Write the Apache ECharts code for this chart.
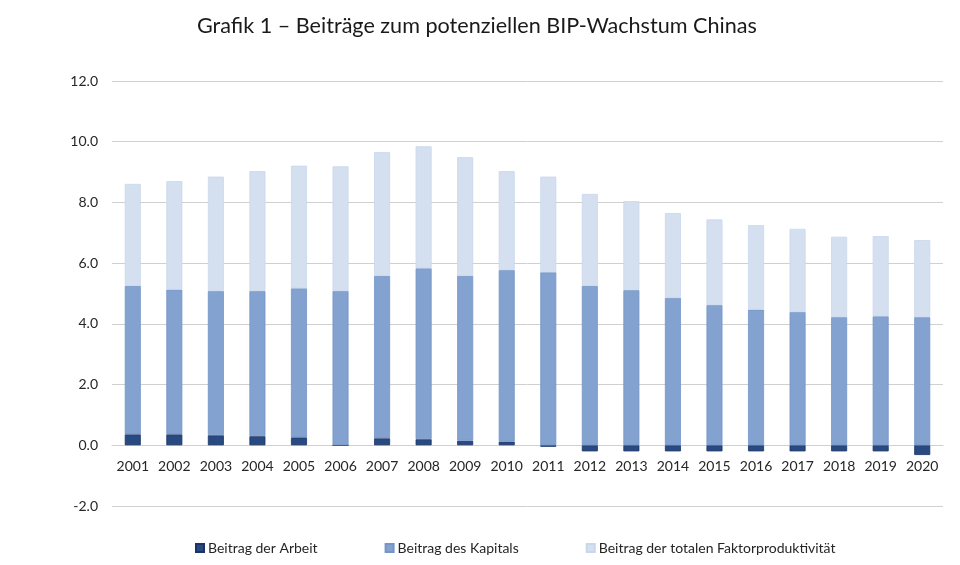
<!DOCTYPE html>
<html>
<head>
<meta charset="utf-8">
<script src="https://cdn.jsdelivr.net/npm/echarts@6/dist/echarts.min.js"></script>
<style>
html,body{margin:0;padding:0;background:#fff;}
#c{width:960px;height:565px;}
</style>
</head>
<body>
<div id="c"></div>
<script>
const titleText = 'Grafik 1 – Beiträge zum potenziellen BIP-Wachstum Chinas';
const years = ['2001','2002','2003','2004','2005','2006','2007','2008','2009','2010','2011','2012','2013','2014','2015','2016','2017','2018','2019','2020'];
const seriesNames = ['Beitrag der Arbeit','Beitrag des Kapitals','Beitrag der totalen Faktorproduktivität'];
const arbeit = [0.36,0.36,0.33,0.30,0.26,0.00,0.23,0.20,0.15,0.12,-0.05,-0.20,-0.20,-0.20,-0.20,-0.20,-0.20,-0.20,-0.20,-0.32];
const kapital = [4.89,4.77,4.75,4.78,4.91,5.08,5.35,5.63,5.43,5.65,5.70,5.25,5.11,4.86,4.62,4.47,4.39,4.22,4.25,4.22];
const tfp = [3.36,3.57,3.77,3.95,4.04,4.11,4.08,4.02,3.91,3.26,3.15,3.03,2.93,2.79,2.82,2.78,2.74,2.65,2.64,2.54];
const yMin = -2, yMax = 12, yStep = 2;

const gridTop = 81, gridBottom = 59, chartH = 565;
const plotH = chartH - gridTop - gridBottom;
const zeroOffset = -plotH * (0 - yMin) / (yMax - yMin);

const chart = echarts.init(document.getElementById('c'), null, {renderer:'canvas'});
const fontFam = 'Lato, "Open Sans", sans-serif';
const colors = ['#284a80','#84a2cf','#d4e0f0'];
const borders = ['#1b3366','#7495c8','#c9d7ec'];
const vals = [arbeit, kapital, tfp];
chart.setOption({
  animation:false,
  title:{text:titleText,left:192,top:10,textStyle:{fontFamily:fontFam,fontSize:21.6,fontWeight:'normal',color:'#1a1a1a'}},
  grid:{left:112,right:17,top:gridTop,bottom:gridBottom},
  legend:{
    data:seriesNames,left:190,top:536,itemWidth:8,itemHeight:8,itemGap:67,icon:'rect',
    textStyle:{fontFamily:fontFam,fontSize:14,color:'#262626',padding:[0,0,0,-1]}
  },
  xAxis:{
    type:'category',data:years,position:'bottom',offset:zeroOffset,
    axisLine:{onZero:false,lineStyle:{color:'#d0d0d0',width:1}},
    axisTick:{show:false},
    axisLabel:{fontFamily:fontFam,fontSize:14,color:'#262626',margin:14,interval:0}
  },
  yAxis:{
    type:'value',min:yMin,max:yMax,interval:yStep,
    axisLine:{show:false},axisTick:{show:false},
    splitLine:{lineStyle:{color:'#d0d0d0',width:1}},
    axisLabel:{fontFamily:fontFam,fontSize:14,color:'#262626',margin:14,formatter:v=>v.toFixed(1)}
  },
  series:seriesNames.map((n,i)=>({
    name:n,type:'bar',stack:'total',stackStrategy:'samesign',barWidth:16,
    data:vals[i],
    itemStyle:{color:colors[i],borderColor:borders[i],borderWidth:0.8}
  }))
});
</script>
</body>
</html>
